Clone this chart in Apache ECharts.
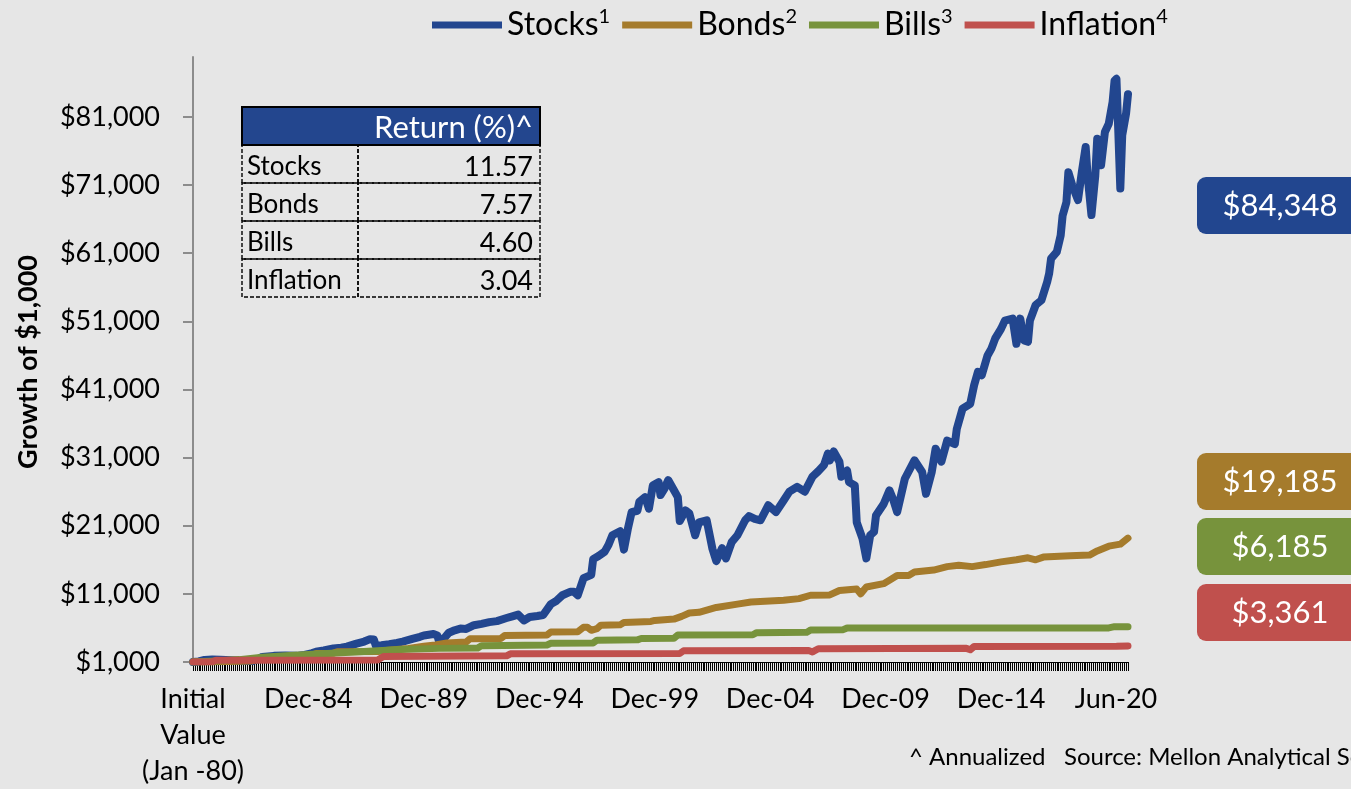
<!DOCTYPE html>
<html><head><meta charset="utf-8">
<script src="https://cdn.jsdelivr.net/npm/echarts@6/dist/echarts.min.js"></script>
<style>html,body{margin:0;padding:0;background:#e6e6e6;}#c{width:1351px;height:789px;}</style>
</head><body><div id="c"></div>
<script>
// ---------- DATA ----------
// x = month index from the initial value (0 = Jan-80, 486 = Jun-20)
const xTickIdx = [0, 60, 120, 180, 240, 300, 360, 420, 486];
const xTickLabels = ['Initial\nValue\n(Jan -80)', 'Dec-84', 'Dec-89', 'Dec-94', 'Dec-99', 'Dec-04', 'Dec-09', 'Dec-14', 'Jun-20'];
const yTickValues = [1000, 11000, 21000, 31000, 41000, 51000, 61000, 71000, 81000];

const seriesNames = ['Stocks', 'Bonds', 'Bills', 'Inflation'];
const seriesSup = ['1', '2', '3', '4'];

const stocks = [
 [0,1000],[3,1080],[6,1300],[10,1380],[14,1330],[20,1250],[26,1200],[31,1150],[34,1450],[36,1750],
 [42,1900],[48,1950],[54,1900],[58,2050],[62,2300],[64,2500],[68,2700],[73,3000],[77,3100],[80,3250],
 [85,3700],[89,4000],[92,4350],[94,4300],[95,3400],[98,3450],[102,3600],[106,3800],[109,4000],[114,4400],
 [118,4700],[120,4900],[125,5100],[127,4900],[128,3900],[130,4300],[133,5300],[136,5650],[139,5900],[142,5850],
 [146,6400],[150,6600],[154,6850],[158,7000],[163,7450],[166,7700],[169,7950],[172,7100],[175,7600],[179,7750],
 [182,7900],[186,9500],[189,10000],[192,10800],[196,11300],[198,11300],[200,10800],[203,13300],[207,13800],[208,16100],
 [211,16600],[214,17200],[216,18200],[218,19600],[222,20200],[223,19000],[224,17500],[226,20500],[228,23000],[231,23200],
 [232,24500],[235,25200],[237,23500],[239,26900],[242,27400],[243,25500],[245,26400],[247,27700],[250,26200],[252,25200],
 [253,21700],[256,23250],[258,22800],[261,19600],[263,21500],[267,21800],[270,17600],[272,15800],[275,17700],[277,16200],
 [280,18600],[283,19600],[287,21800],[289,22400],[292,22000],[295,21800],[299,24000],[303,23000],[307,24700],[310,26000],
 [314,26700],[318,26000],[322,28200],[325,29000],[328,29900],[330,31600],[331,30600],[333,31900],[336,30400],[337,28200],
 [340,29100],[341,27400],[344,26900],[345,21500],[348,19100],[350,16200],[352,19600],[354,20100],[355,22500],[359,24200],
 [362,26200],[364,24800],[366,23000],[370,27900],[375,30600],[379,28900],[381,25700],[384,28900],[386,32300],[389,30400],
 [392,33500],[396,33000],[397,35200],[400,38200],[404,38900],[406,41600],[408,43600],[410,43100],[413,46000],[415,47000],
 [417,48500],[420,49900],[422,51100],[426,51400],[428,47700],[430,51400],[432,48200],[434,48000],[435,51100],[438,53400],
 [441,54100],[444,56800],[445,58000],[446,60200],[449,61200],[451,63600],[452,66500],[454,68500],[455,72900],[457,71000],
 [460,68800],[462,72900],[464,76600],[465,72400],[467,66600],[469,72400],[470,77800],[472,73900],[474,78800],[476,80000],
 [478,83200],[479,86300],[480,86600],[482,70500],[483,78300],[485,81500],[486,84348]
];
const bonds = [
 [0,1000],[10,1000],[12,1050],[24,1100],[30,1150],[34,1400],[36,1500],[48,1600],[60,1800],[64,2250],
 [73,2300],[75,2500],[96,2550],[100,2700],[112,3000],[120,3300],[126,3500],[132,3800],[142,3950],[144,4400],
 [160,4450],[162,4900],[184,4950],[186,5400],[200,5450],[203,6100],[205,6100],[207,5650],[210,5900],[212,6400],
 [222,6450],[224,6800],[238,6950],[240,7100],[250,7300],[254,7700],[258,8200],[263,8300],[272,9000],[283,9500],
 [290,9800],[307,10050],[315,10300],[321,10800],[331,10850],[336,11500],[345,11700],[347,11000],[350,12000],[359,12500],
 [362,13000],[366,13700],[372,13700],[375,14200],[385,14500],[392,15000],[398,15200],[405,15000],[412,15300],[420,15700],
 [428,16000],[434,16300],[438,16000],[442,16400],[456,16600],[466,16700],[470,17300],[476,18000],[482,18300],[486,19185]
];
const bills = [
 [0,1000],[12,1150],[24,1350],[36,1700],[48,1900],[60,2100],[72,2300],[84,2450],[96,2650],[108,2850],
 [128,3000],[148,3050],[150,3400],[184,3500],[186,3750],[208,3800],[210,4200],[231,4250],[233,4450],[250,4500],
 [252,4950],[291,5000],[293,5300],[319,5350],[321,5700],[338,5750],[340,6000],[476,6000],[479,6185],[486,6185]
];
const inflation = [
 [0,1000],[10,1020],[12,1250],[96,1300],[99,1800],[163,1900],[165,2200],[253,2250],[255,2650],[320,2700],
 [322,2480],[325,2950],[402,3000],[404,2800],[406,3280],[480,3300],[486,3361]
];

const tableRows = ['Stocks', 'Bonds', 'Bills', 'Inflation'];
const tableReturns = ['11.57', '7.57', '4.60', '3.04'];

// ---------- STYLE ----------
const colors = ['#22468F', '#A57B2C', '#77933C', '#C0504D'];
const FONT = 'Lato';
const allData = [stocks, bonds, bills, inflation];

const chart = echarts.init(document.getElementById('c'), null, {renderer: 'canvas'});
const fmt = v => '$' + Math.round(v).toLocaleString('en-US');
const monthSlots = Array.from({length: 487}, (_, i) => String(i));

const graphics = [];
// Y axis title
graphics.push({type: 'text', x: 28, y: 362, rotation: Math.PI / 2,
  style: {text: 'Growth of $1,000', font: 'bold 27px ' + FONT, fill: '#000', align: 'center', verticalAlign: 'middle'}});
// Table
const tX = 242, tW = 298, tCol = 116, tTop = 107, tHead = 38, tRow = 38;
graphics.push({type: 'rect', shape: {x: tX, y: tTop, width: tW, height: tHead},
  style: {fill: '#23468E', stroke: '#000', lineWidth: 2}});
graphics.push({type: 'text', x: tX + tW - 7, y: tTop + tHead / 2 + 2,
  style: {text: 'Return (%)^', font: '31px ' + FONT, fill: '#fff', align: 'right', verticalAlign: 'middle'}});
tableRows.forEach((name, i) => {
  const y0 = tTop + tHead + i * tRow;
  graphics.push({type: 'rect', shape: {x: tX, y: y0, width: tCol, height: tRow},
    style: {fill: 'none', stroke: '#000', lineWidth: 1.4, lineDash: [4, 2]}});
  graphics.push({type: 'rect', shape: {x: tX + tCol, y: y0, width: tW - tCol, height: tRow},
    style: {fill: 'none', stroke: '#000', lineWidth: 1.4, lineDash: [4, 2]}});
  graphics.push({type: 'text', x: tX + 5, y: y0 + tRow / 2 + 3,
    style: {text: name, font: '26px ' + FONT, fill: '#000', align: 'left', verticalAlign: 'middle'}});
  graphics.push({type: 'text', x: tX + tW - 7, y: y0 + tRow / 2 + 3,
    style: {text: tableReturns[i], font: '27px ' + FONT, fill: '#000', align: 'right', verticalAlign: 'middle'}});
});
// End value boxes
const boxTops = [177, 453, 518, 584];
allData.forEach((d, i) => {
  graphics.push({type: 'rect', shape: {x: 1197, y: boxTops[i], width: 175, height: 57, r: 9},
    style: {fill: colors[i]}});
  graphics.push({type: 'text', x: 1280, y: boxTops[i] + 29,
    style: {text: fmt(d[d.length - 1][1]), font: '31px ' + FONT, fill: '#fff', align: 'center', verticalAlign: 'middle'}});
});
// Footnote
graphics.push({type: 'text', x: 909, y: 757,
  style: {text: '^ Annualized   Source: Mellon Analytical Solutions', font: '24px ' + FONT, fill: '#000', align: 'left', verticalAlign: 'middle'}});

chart.setOption({
  backgroundColor: '#e6e6e6',
  animation: false,
  textStyle: {fontFamily: FONT},
  grid: {left: 193, right: 223, top: 57, bottom: 126, containLabel: false},
  legend: {
    left: 427, top: 2, icon: 'rect', itemWidth: 70, itemHeight: 7, itemGap: 12,
    data: seriesNames,
    formatter: name => '{n|' + name + '}{s|' + seriesSup[seriesNames.indexOf(name)] + '}',
    textStyle: {
      color: '#000',
      rich: {
        n: {fontSize: 32, fontFamily: FONT, color: '#000', lineHeight: 36},
        s: {fontSize: 20, fontFamily: FONT, color: '#000', verticalAlign: 'top', lineHeight: 24}
      }
    }
  },
  xAxis: [{
    type: 'value', min: 0, max: 486, position: 'bottom',
    axisLine: {show: false, onZero: false},
    axisTick: {show: false},
    axisLabel: {
      customValues: xTickIdx, margin: 19, fontSize: 27, fontFamily: FONT, color: '#000', lineHeight: 36,
      formatter: v => {
        const k = xTickIdx.indexOf(v);
        if (k < 0) return '';
        return k === xTickIdx.length - 1 ? '{j|' + xTickLabels[k] + '}' : xTickLabels[k];
      },
      rich: {j: {fontSize: 27, fontFamily: FONT, color: '#000', padding: [0, 24, 0, 0]}},
      hideOverlap: false
    },
    splitLine: {show: false}
  }, {
    // monthly tick marks (one per data slot)
    type: 'category', data: monthSlots, boundaryGap: false, position: 'bottom', offset: 0,
    axisLine: {show: true, onZero: false, lineStyle: {color: '#000', width: 1}},
    axisTick: {show: true, interval: 0, length: 9, lineStyle: {color: '#000', width: 1}},
    axisLabel: {show: false},
    splitLine: {show: false}
  }],
  yAxis: {
    type: 'value', min: 1000, max: 89800,
    axisLine: {show: true, lineStyle: {color: '#8c8c8c', width: 2}},
    axisTick: {show: true, customValues: yTickValues, length: 10, lineStyle: {color: '#8c8c8c', width: 2}},
    axisLabel: {customValues: yTickValues, margin: 33, fontSize: 27, fontFamily: FONT, color: '#000', formatter: fmt},
    splitLine: {show: false}
  },
  series: allData.map((d, i) => ({
    name: seriesNames[i], type: 'line', data: d, showSymbol: false, symbol: 'none', xAxisIndex: 0,
    lineStyle: {color: colors[i], width: i === 0 ? 8 : 7, join: 'round', cap: 'round'},
    itemStyle: {color: colors[i]},
    z: 2 + i
  })),
  graphic: graphics
});
</script>
</body></html>
